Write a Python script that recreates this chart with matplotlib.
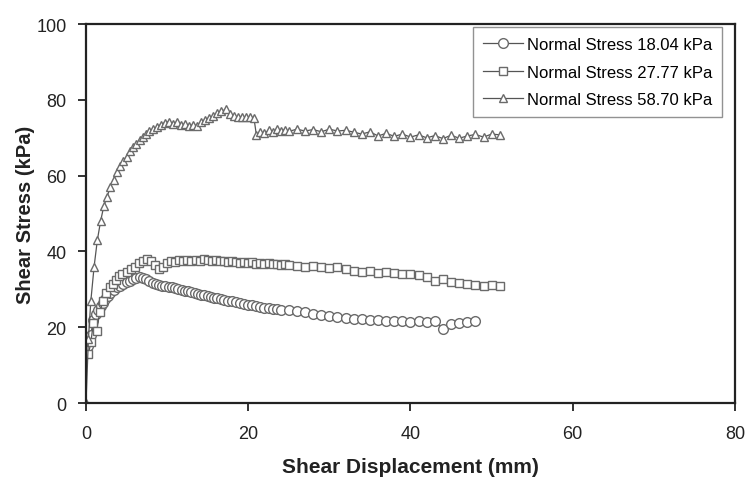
import matplotlib
matplotlib.use('Agg')
import matplotlib.pyplot as plt

plt.rcParams['font.family'] = ['Liberation Sans', 'DejaVu Sans']

# Normal stress 18.04 kPa (circles)
ci_x = [0.3, 0.6, 0.9, 1.2, 1.5, 1.8, 2.1, 2.4, 2.7, 3.0,
        3.4, 3.8, 4.2, 4.6, 5.0, 5.4, 5.8, 6.2, 6.6, 7.0,
        7.4, 7.8, 8.2, 8.6, 9.0, 9.4, 9.8, 10.2, 10.6, 11.0,
        11.4, 11.8, 12.2, 12.6, 13.0, 13.4, 13.8, 14.2, 14.6, 15.0,
        15.4, 15.8, 16.2, 16.6, 17.0, 17.5, 18.0, 18.5, 19.0, 19.5,
        20.0, 20.5, 21.0, 21.5, 22.0, 22.5, 23.0, 23.5, 24.0, 25.0,
        26, 27, 28, 29, 30, 31, 32, 33, 34, 35,
        36, 37, 38, 39, 40, 41, 42, 43, 44, 45,
        46, 47, 48]
ci_y = [15, 18, 22, 23.5, 24.5, 25.5, 26.5, 27.5, 28.3, 29,
        29.8, 30.5, 31, 31.5, 32, 32.3, 32.7, 33, 33.2, 33,
        32.8, 32.3, 31.8, 31.5, 31.2, 31, 30.8, 30.6, 30.5, 30.3,
        30, 29.8, 29.6, 29.5, 29.3, 29, 28.8, 28.6, 28.4, 28.2,
        28, 27.8, 27.6, 27.4, 27.2, 27, 26.8, 26.6, 26.4, 26.2,
        26, 25.8, 25.6, 25.4, 25.2, 25, 24.9, 24.7, 24.6, 24.6,
        24.2, 23.9, 23.5, 23.3, 23.1, 22.8, 22.5, 22.3, 22.1, 22.0,
        21.8, 21.7, 21.6, 21.6, 21.5, 21.6, 21.5, 21.6, 19.5, 20.8,
        21.2, 21.5, 21.6]

# Normal stress 27.77 kPa (squares)
sq_x = [0.3, 0.6, 0.9, 1.3, 1.7, 2.1, 2.5, 2.9, 3.3, 3.7,
        4.1, 4.5, 5.0, 5.5, 6.0, 6.5, 7.0, 7.5, 8.0, 8.5,
        9.0, 9.5, 10.0, 10.5, 11.0, 11.5, 12.0, 12.5, 13.0, 13.5,
        14.0, 14.5, 15.0, 15.5, 16.0, 16.5, 17.0, 17.5, 18.0, 18.5,
        19.0, 19.5, 20.0, 20.5, 21.0, 21.5, 22.0, 22.5, 23.0, 23.5,
        24.0, 24.5, 25.0, 26, 27, 28, 29, 30, 31, 32,
        33, 34, 35, 36, 37, 38, 39, 40, 41, 42,
        43, 44, 45, 46, 47, 48, 49, 50, 51]
sq_y = [13, 16, 21, 19, 24, 27, 29, 30.5, 31.5, 32.5,
        33.5, 34, 34.5, 35.5, 36, 37, 37.5, 38, 37.5, 36.5,
        35.5, 35.8, 37, 37.5, 37.3, 37.8, 37.5, 37.7, 37.6, 37.8,
        37.5, 37.9, 37.7, 37.5, 37.8, 37.4, 37.6, 37.2, 37.5, 37.3,
        37, 37.2, 36.9, 37.1, 36.8, 37, 36.7, 36.9, 36.6, 36.8,
        36.5, 36.7, 36.4, 36.3, 36.0, 36.2, 35.8, 35.6, 35.9, 35.3,
        34.8, 34.5, 34.8, 34.3, 34.5, 34.2, 34.0, 34.0, 33.8, 33.2,
        32.3, 32.8, 32.0, 31.7, 31.5, 31.2, 31.0, 31.2, 31.0]

# Normal stress 58.70 kPa (triangles)
tr_x = [0, 0.3, 0.6, 1.0, 1.4, 1.8, 2.2, 2.6, 3.0, 3.4,
        3.8, 4.2, 4.6, 5.0, 5.4, 5.8, 6.2, 6.6, 7.0, 7.4,
        7.8, 8.2, 8.7, 9.2, 9.7, 10.2, 10.7, 11.2, 11.7, 12.2,
        12.7, 13.2, 13.7, 14.2, 14.7, 15.2, 15.7, 16.2, 16.7, 17.2,
        17.7, 18.2, 18.7, 19.2, 19.7, 20.2, 20.7, 21.0, 21.5, 22.0,
        22.5, 23.0, 23.5, 24.0, 24.5, 25.0, 26, 27, 28, 29,
        30, 31, 32, 33, 34, 35, 36, 37, 38, 39,
        40, 41, 42, 43, 44, 45, 46, 47, 48, 49,
        50, 51]
tr_y = [0, 17, 27, 36, 43, 48, 52, 54.5, 57, 59,
        61, 62.5, 64, 65, 66.5, 67.5, 68.5, 69.5, 70.3, 71,
        71.8, 72.3, 72.8, 73.5, 74, 74.3, 73.6, 74.2, 73.3, 73.7,
        73, 73.5, 73.2, 74.2, 74.8, 75.3, 75.8, 76.5, 77, 77.5,
        76.2, 75.8, 75.5, 75.6, 75.4, 75.5, 75.3, 70.8, 71.5, 71.2,
        72, 71.6, 72.3, 71.8, 72.2, 71.7, 72.3, 71.8, 72.2, 71.6,
        72.3, 71.8, 72, 71.5, 71, 71.6, 70.5, 71.2, 70.4, 71,
        70.2, 70.8, 70, 70.6, 69.8, 70.7, 69.9, 70.5, 70.9, 70.2,
        71, 70.8]

labels = ['Normal Stress 18.04 kPa', 'Normal Stress 27.77 kPa', 'Normal Stress 58.70 kPa']

fig = plt.figure(figsize=(7.49, 4.85), dpi=100)
ax = fig.add_axes([0.1148, 0.167, 0.8665, 0.781])

style = dict(color='#555555', lw=0.9, markerfacecolor='white',
             markeredgecolor='#6a6a6a', markeredgewidth=1.0)
ax.plot(ci_x, ci_y, marker='o', ms=7, label=labels[0], **style)
ax.plot(sq_x, sq_y, marker='s', ms=6, label=labels[1], **style)
ax.plot(tr_x, tr_y, marker='^', ms=6, label=labels[2], **style)

ax.set_xlim(0, 80)
ax.set_ylim(0, 100)
ax.set_xticks([0, 20, 40, 60, 80])
ax.set_yticks([0, 20, 40, 60, 80, 100])
ax.tick_params(direction='out', length=6, width=1.3, labelsize=13, colors='#222222')
ax.tick_params(axis='x', pad=10)
ax.tick_params(axis='y', pad=8)
for s in ax.spines.values():
    s.set_linewidth(1.6)
    s.set_color('#222222')

ax.set_xlabel('Shear Displacement (mm)', fontsize=15, fontweight='bold', color='#222222')
ax.set_ylabel('Shear Stress (kPa)', fontsize=14.5, fontweight='bold', color='#222222')
ax.xaxis.set_label_coords(0.5, -0.142)
ax.yaxis.set_label_coords(-0.078, 0.5)

leg = ax.legend(loc='upper right', bbox_to_anchor=(0.98, 0.992), fontsize=12,
                frameon=True, fancybox=False, edgecolor='#777777',
                handlelength=2.4, handletextpad=0.2, labelspacing=0.75,
                borderaxespad=0, borderpad=0.6)
leg.get_frame().set_linewidth(1.0)

fig.savefig('out.png', dpi=100)
